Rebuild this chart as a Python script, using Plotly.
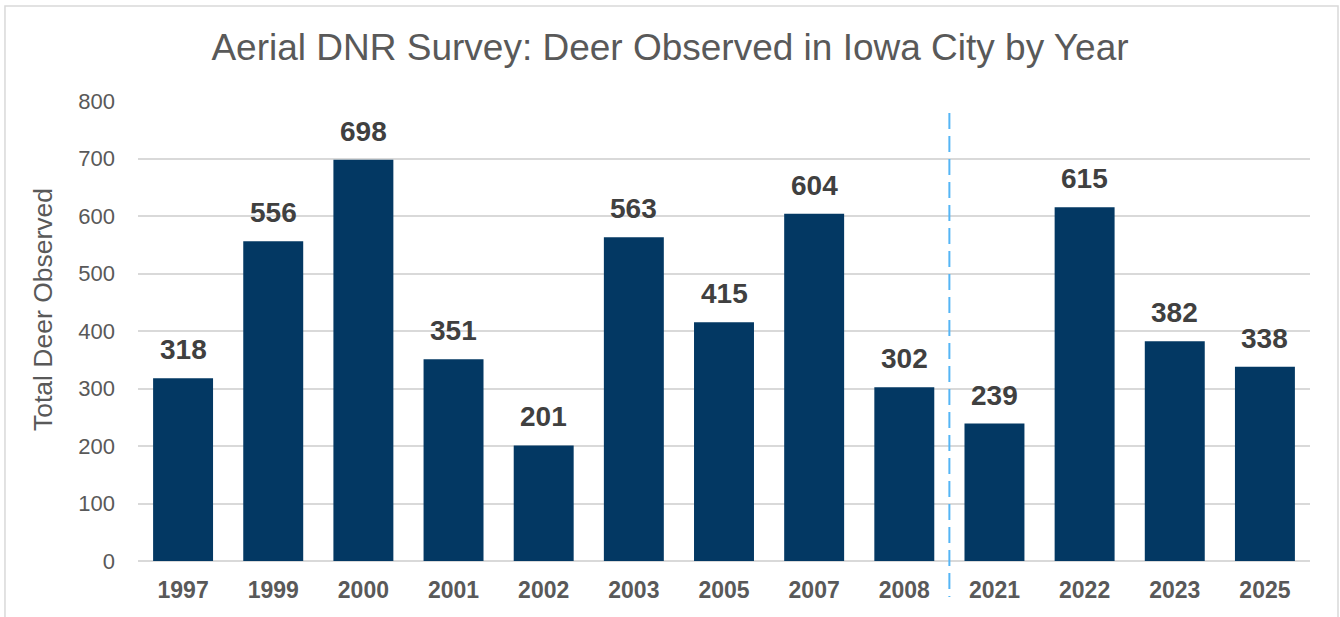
import plotly.graph_objects as go

# survey years (categorical) and deer counts
years = ["1997", "1999", "2000", "2001", "2002", "2003", "2005",
         "2007", "2008", "2021", "2022", "2023", "2025"]
deer_counts = [318, 556, 698, 351, 201, 563, 415, 604, 302, 239, 615, 382, 338]
y_ticks = [0, 100, 200, 300, 400, 500, 600, 700, 800]

FONT = "Liberation Sans, Arial, sans-serif"
BAR_COLOR = "#033863"
GRID = "#d9d9d9"

fig = go.Figure()
fig.add_trace(go.Bar(
    x=years, y=deer_counts,
    marker=dict(color=BAR_COLOR, line=dict(width=0)),
    hoverinfo="x+y",
))

# data labels above each bar (x by category index so numeric-looking names aren't cast)
for i, val in enumerate(deer_counts):
    fig.add_annotation(x=i, y=val, text=f"<b>{val}</b>", showarrow=False,
                       yanchor="bottom", yshift=11,
                       font=dict(family=FONT, size=28, color="#404040"))

# y axis title as annotation (sits a bit above plot centre in the original)
fig.add_annotation(xref="paper", yref="paper", x=(43 - 138) / 1172, y=(561 - 310) / 460,
                   text="Total Deer Observed", textangle=-90, showarrow=False,
                   xanchor="center", yanchor="middle",
                   font=dict(family=FONT, size=26.5, color="#595959"))

# dashed divider between the 2008 and 2021 surveys (drawn top-down)
fig.add_shape(type="line", xref="x", yref="paper",
              x0=8.5, x1=8.5, y0=0.974, y1=-0.078,
              line=dict(color="#55b5f5", width=2, dash="16px,7px"))

# chart border
fig.add_shape(type="rect", xref="paper", yref="paper",
              x0=-0.1135, x1=1.0239, y0=-0.13, y1=1.2065,
              line=dict(color=GRID, width=1.5), layer="below")

fig.update_layout(
    title=dict(text="Aerial DNR Survey: Deer Observed in Iowa City by Year",
               x=0.5, xanchor="center", y=1 - 47 / 617, yanchor="middle",
               font=dict(family=FONT, size=37, color="#595959")),
    width=1340, height=617,
    margin=dict(l=138, r=30, t=101, b=56, autoexpand=False),
    paper_bgcolor="white", plot_bgcolor="white",
    bargap=0.335,
    showlegend=False,
    font=dict(family=FONT, color="#595959"),
)
fig.update_xaxes(
    type="category", range=[-0.5, len(years) - 0.5],
    tickfont=dict(family=FONT, size=23, color="#595959", weight="bold"),
    showgrid=False, showline=False, ticks="", ticklabelstandoff=13,
)
fig.update_yaxes(
    range=[0, 800], tickvals=y_ticks,
    tickfont=dict(family=FONT, size=22, color="#595959"),
    showgrid=True, gridcolor=GRID, gridwidth=1.5,
    zeroline=True, zerolinecolor=GRID, zerolinewidth=1.5,
    ticks="", ticklabelstandoff=22,
)

# drop the default body margin so the figure sits at the page origin
fig.write_html("out.html", config={"displayModeBar": False},
               post_script="document.body.style.margin='0';")
